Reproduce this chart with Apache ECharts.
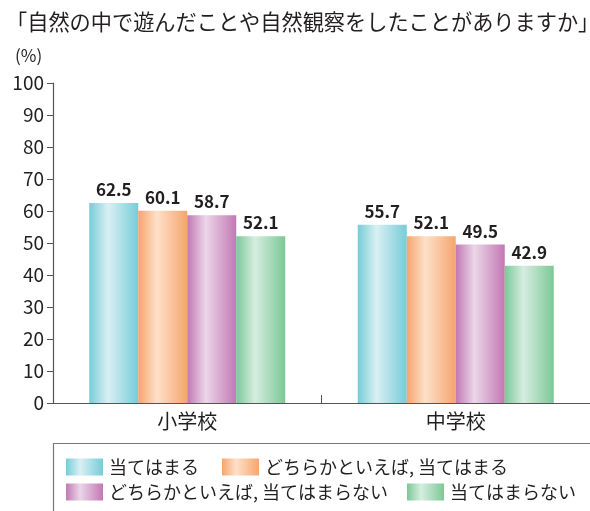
<!DOCTYPE html>
<html><head><meta charset="utf-8">
<script src="https://cdn.jsdelivr.net/npm/echarts@6/dist/echarts.min.js"></script>
<style>html,body{margin:0;padding:0;background:#fff}#c{width:590px;height:511px}</style>
</head><body><div id="c"></div>
<script>
const categories = ['小学校', '中学校'];
const seriesNames = ['当てはまる', 'どちらかといえば, 当てはまる', 'どちらかといえば, 当てはまらない', '当てはまらない'];
const s1 = [62.5, 55.7];
const s2 = [60.1, 52.1];
const s3 = [58.7, 49.5];
const s4 = [52.1, 42.9];
const yTicks = [0, 10, 20, 30, 40, 50, 60, 70, 80, 90, 100];

const FONT = '"Noto Sans CJK JP", "Noto Sans", sans-serif';
const edge = ['#76ccd8', '#f5a56d', '#c278b4', '#7cc896'];
const mid = ['#d9f0f3', '#fee0c9', '#ebd6e8', '#d6ede0'];
function grad(i) {
  return new echarts.graphic.LinearGradient(0, 0, 1, 0, [
    {offset: 0, color: edge[i]},
    {offset: 0.38, color: mid[i]},
    {offset: 1, color: edge[i]}
  ]);
}
const vals = [s1, s2, s3, s4];
const series = vals.map((v, i) => ({
  name: seriesNames[i],
  type: 'bar',
  data: v,
  barWidth: 49,
  barGap: '0%',
  itemStyle: {color: grad(i)},
  label: {show: true, position: 'top', distance: 5, color: '#231f20',
    fontFamily: FONT, fontWeight: 'bold', fontSize: 17,
    formatter: p => p.value.toFixed(1)}
}));

const legendPos = [
  {left: 66, top: 458}, {left: 222, top: 458},
  {left: 66, top: 483}, {left: 407, top: 483}
];
const legends = seriesNames.map((n, i) => ({
  data: [n], left: legendPos[i].left, top: legendPos[i].top,
  icon: 'rect', itemWidth: 37, itemHeight: 17, itemGap: 0, padding: 0,
  selectedMode: false,
  textStyle: {fontFamily: FONT, fontSize: 18, color: '#231f20', padding: [0, 0, 0, 1]}
}));

const chart = echarts.init(document.getElementById('c'), null, {renderer: 'canvas'});
chart.setOption({
  animation: false,
  title: [
    {text: '「自然の中で遊んだことや自然観察をしたことがありますか」', left: 1, top: 6,
      textStyle: {fontFamily: FONT, fontSize: 21.2, fontWeight: 'normal', color: '#231f20'}},
    {text: '(%)', left: 10, top: 42,
      textStyle: {fontFamily: FONT, fontSize: 17, fontWeight: 'normal', color: '#231f20'}}
  ],
  legend: legends,
  grid: {left: 53, right: 0, top: 83, bottom: 108},
  xAxis: {
    type: 'category', data: categories,
    axisLine: {lineStyle: {color: '#555', width: 1.2}},
    axisTick: {show: true, inside: true, length: 8, lineStyle: {color: '#555'}},
    axisLabel: {fontFamily: FONT, fontSize: 20, color: '#231f20', margin: 8}
  },
  yAxis: {
    type: 'value', min: 0, max: 100, interval: 10,
    axisLine: {show: true, lineStyle: {color: '#555', width: 1.2}},
    axisTick: {show: true, length: 6, lineStyle: {color: '#555'}},
    splitLine: {show: false},
    axisLabel: {fontFamily: FONT, fontSize: 19, color: '#231f20', margin: 9,
      formatter: v => yTicks.includes(v) ? String(v) : ''}
  },
  graphic: [
    {type: 'polyline', shape: {points: [[53.5, 520], [53.5, 443.5], [600, 443.5]]},
      style: {stroke: '#777', lineWidth: 1.2, fill: null}}
  ],
  series: series
});
</script></body></html>
